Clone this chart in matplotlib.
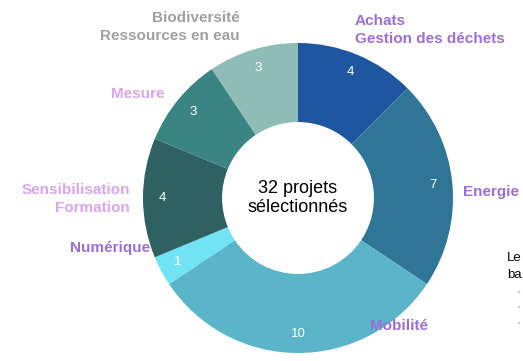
import matplotlib.pyplot as plt
import numpy as np

categories = ["Achats\nGestion des déchets", "Energie", "Mobilité", "Numérique",
              "Sensibilisation\nFormation", "Mesure", "Biodiversité\nRessources en eau"]
counts = [4, 7, 10, 1, 4, 3, 3]
colors = ["#1E56A0", "#2F7596", "#5AB5C8", "#70E4F4", "#2F6163", "#3A8584", "#90BCB6"]
label_colors = ["#9B6FD3", "#9B6FD3", "#9B6FD3", "#9B6FD3", "#D9A6EC", "#D9A6EC", "#A0A0A0"]
# label anchor (pixel x, pixel y from top, alignment)
label_pos = [(355, 30, "left"), (463, 192, "left"), (370, 326, "left"), (150, 248, "right"),
             (130, 199, "right"), (164, 94, "right"), (240, 27, "right")]

W, H = 523, 361
fig = plt.figure(figsize=(W / 100, H / 100), dpi=100)
ax = fig.add_axes([0, 0, 1, 1])

cx, cy, R = 298, H - 198, 155
wedges, _ = ax.pie(counts, colors=colors, startangle=90, counterclock=False,
                   center=(cx, cy), radius=R, wedgeprops=dict(width=R * 0.51, linewidth=0),
                   frame=True)
ax.set_xlim(0, W)
ax.set_ylim(0, H)
ax.axis("off")

for w, n in zip(wedges, counts):
    mid = np.deg2rad((w.theta1 + w.theta2) / 2)
    r = R * 0.877
    ax.text(cx + r * np.cos(mid), cy + r * np.sin(mid), str(n), color="white",
            fontsize=9.5, ha="center", va="center", family="Liberation Sans")

for name, col, (px, py, ha) in zip(categories, label_colors, label_pos):
    ax.text(px, H - py, name, color=col, fontsize=11, fontweight="bold", ha=ha,
            va="center", family="Liberation Sans", linespacing=1.3)

ax.text(cx, cy, "32 projets\nsélectionnés", fontsize=13, ha="center", va="center",
        family="Liberation Sans", linespacing=1.2)

ax.text(507, H - 258, "Le", fontsize=9.5, ha="left", va="center", family="Liberation Sans")
ax.text(507, H - 275, "ba", fontsize=9.5, ha="left", va="center", family="Liberation Sans")
for yy in [293, 308, 324]:
    ax.text(517, H - yy, "•", fontsize=5, color="#D9A6EC", ha="left", va="center")

fig.savefig("out.png", dpi=100)
